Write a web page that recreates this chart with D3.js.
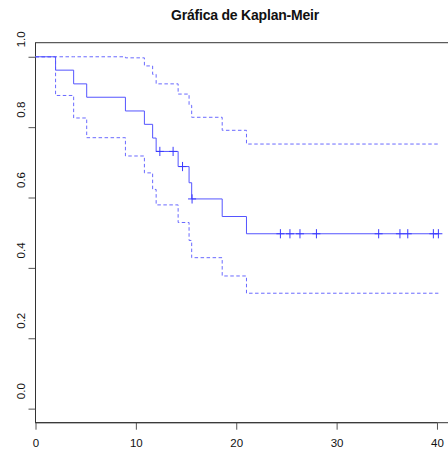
<!DOCTYPE html>
<html>
<head>
<meta charset="utf-8">
<script src="https://cdn.jsdelivr.net/npm/d3@7"></script>
<style>
    body { margin: 0; background: #fff; }
    svg { display: block; font-family: 'Liberation Sans', Arial, sans-serif; }
</style>
</head>
<body>
<svg id="graph"></svg>
<script>
// 事件时间与生存估计
const stepTimes = [0, 2.0, 3.8, 5.1, 8.96, 10.85, 11.67, 12.02, 14.21, 15.3, 15.56, 18.6, 21.02];
const survival  = [1, 0.962, 0.923, 0.885, 0.846, 0.808, 0.769, 0.731, 0.688, 0.642, 0.596, 0.546, 0.497];
const upperCI   = [1, 1, 1, 1, 0.997, 0.974, 0.950, 0.923, 0.894, 0.862, 0.828, 0.791, 0.752];
const lowerCI   = [1, 0.890, 0.826, 0.770, 0.718, 0.670, 0.623, 0.579, 0.529, 0.478, 0.429, 0.377, 0.328];
const censorTimes = [12.39, 13.71, 14.65, 15.6, 24.4, 25.35, 26.35, 27.99, 34.19, 36.31, 37.09, 39.64, 40.14];
const endTime = 40.14;
const xTicks = [0, 10, 20, 30, 40];
const yTicks = [0, 0.2, 0.4, 0.6, 0.8, 1.0];
const title = 'Gráfica de Kaplan-Meir';

const width = 448, height = 452;
const margin = { top: 42.7, right: -6.5, bottom: 29.3, left: 35.5 };

const svg = d3.select('#graph')
    .attr('width', width)
    .attr('height', height);

const xScale = d3.scaleLinear()
    .domain([0, endTime * 1.04])
    .range([margin.left, width - margin.right]);

const yScale = d3.scaleLinear()
    .domain([-0.04, 1.04])
    .range([height - margin.bottom, margin.top]);

// 外框
svg.append('rect')
    .attr('x', margin.left)
    .attr('y', margin.top)
    .attr('width', width - margin.right - margin.left)
    .attr('height', height - margin.bottom - margin.top)
    .attr('fill', 'none')
    .attr('stroke', '#333');

// 坐标轴
const xAxis = d3.axisBottom(xScale)
    .tickValues(xTicks)
    .tickFormat(d3.format('d'))
    .tickSize(7)
    .tickPadding(9);

const yAxis = d3.axisLeft(yScale)
    .tickValues(yTicks)
    .tickFormat(d3.format('.1f'))
    .tickSize(7);

const gx = svg.append('g')
    .attr('transform', `translate(0, ${height - margin.bottom})`)
    .call(xAxis);

const gy = svg.append('g')
    .attr('transform', `translate(${margin.left}, 0)`)
    .call(yAxis);

[gx, gy].forEach(g => {
    g.select('.domain').remove();
    g.selectAll('line').attr('stroke', '#555');
    g.selectAll('text')
        .attr('fill', '#111')
        .style('font-size', '11.5px');
});

// 纵轴标签竖排
gy.selectAll('.tick text')
    .attr('text-anchor', 'middle')
    .attr('x', 0)
    .attr('dy', 0)
    .attr('transform', 'translate(-14.5, -18) rotate(-90) translate(0, 4)');

svg.append('line')
    .attr('x1', xScale(xTicks[0])).attr('x2', xScale(xTicks[xTicks.length - 1]))
    .attr('y1', height - margin.bottom).attr('y2', height - margin.bottom)
    .attr('stroke', '#333');

svg.append('line')
    .attr('x1', margin.left).attr('x2', margin.left)
    .attr('y1', yScale(yTicks[0])).attr('y2', yScale(yTicks[yTicks.length - 1]))
    .attr('stroke', '#333');

// 阶梯曲线
const stepLine = d3.line()
    .x(d => xScale(d[0]))
    .y(d => yScale(d[1]))
    .curve(d3.curveStepAfter);

const toPoints = values => {
    const pts = stepTimes.map((t, i) => [t, values[i]]);
    pts.push([endTime, values[values.length - 1]]);
    return pts;
};

const plotArea = svg.append('g');

plotArea.append('path')
    .datum(toPoints(upperCI))
    .attr('d', stepLine)
    .attr('fill', 'none')
    .attr('stroke', '#6a6aff')
    .attr('stroke-dasharray', '3.5,2.5');

plotArea.append('path')
    .datum(toPoints(lowerCI))
    .attr('d', stepLine)
    .attr('fill', 'none')
    .attr('stroke', '#6a6aff')
    .attr('stroke-dasharray', '3.5,2.5');

plotArea.append('path')
    .datum(toPoints(survival))
    .attr('d', stepLine)
    .attr('fill', 'none')
    .attr('stroke', '#5555ff');

// 删失标记
const survAt = t => survival[d3.bisectRight(stepTimes, t) - 1];

plotArea.selectAll('.censor')
    .data(censorTimes)
    .enter().append('path')
    .attr('class', 'censor')
    .attr('transform', d => `translate(${xScale(d)}, ${yScale(survAt(d))})`)
    .attr('d', 'M-4,0H4M0,-4.6V4.6')
    .attr('fill', 'none')
    .attr('stroke', '#3a3aff');

// 标题
svg.append('text')
    .attr('x', (margin.left + width - margin.right) / 2)
    .attr('y', 19.5)
    .attr('text-anchor', 'middle')
    .style('font-size', '14px')
    .style('font-weight', 'bold')
    .style('letter-spacing', '-0.2px')
    .attr('fill', '#111')
    .text(title);
</script>
</body>
</html>
